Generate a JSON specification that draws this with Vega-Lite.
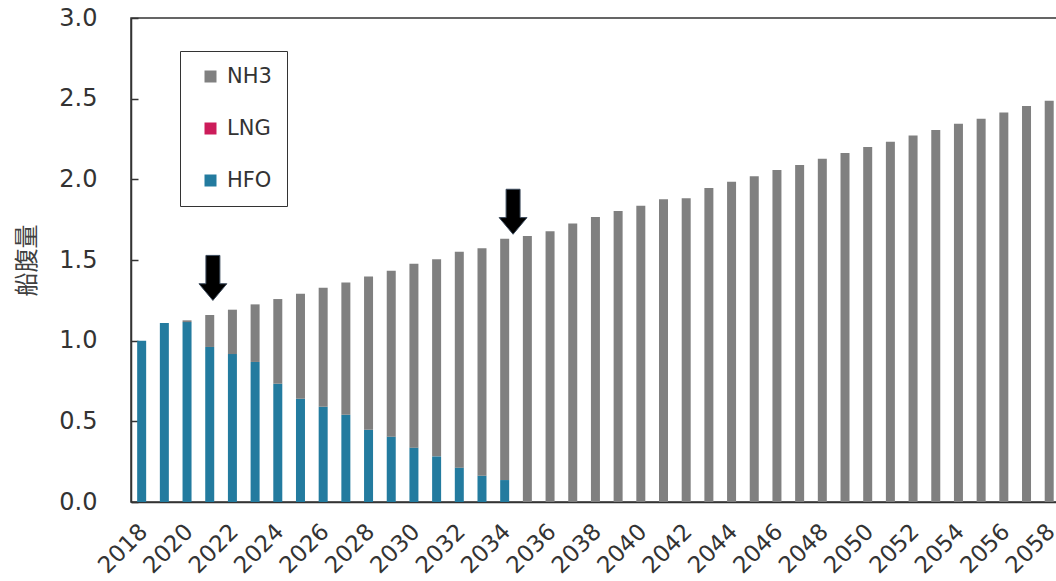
{
  "$schema": "https://vega.github.io/schema/vega-lite/v6.json",
  "width": 935,
  "height": 484,
  "autosize": "none",
  "padding": {"left": 131, "top": 18, "right": -10, "bottom": 79},
  "background": "white",
  "config": {
    "view": {"stroke": "#333333", "strokeWidth": 1.5},
    "font": "DejaVu Sans"
  },
  "datasets": {
    "bars": [
      {"year": 2018, "fuel": "HFO", "value": 1.0},
      {"year": 2019, "fuel": "HFO", "value": 1.11},
      {"year": 2020, "fuel": "HFO", "value": 1.115},
      {"year": 2020, "fuel": "NH3", "value": 0.011},
      {"year": 2021, "fuel": "HFO", "value": 0.961},
      {"year": 2021, "fuel": "NH3", "value": 0.198},
      {"year": 2022, "fuel": "HFO", "value": 0.917},
      {"year": 2022, "fuel": "NH3", "value": 0.275},
      {"year": 2023, "fuel": "HFO", "value": 0.868},
      {"year": 2023, "fuel": "NH3", "value": 0.357},
      {"year": 2024, "fuel": "HFO", "value": 0.733},
      {"year": 2024, "fuel": "NH3", "value": 0.525},
      {"year": 2025, "fuel": "HFO", "value": 0.64},
      {"year": 2025, "fuel": "NH3", "value": 0.651},
      {"year": 2026, "fuel": "HFO", "value": 0.591},
      {"year": 2026, "fuel": "NH3", "value": 0.737},
      {"year": 2027, "fuel": "HFO", "value": 0.541},
      {"year": 2027, "fuel": "NH3", "value": 0.82},
      {"year": 2028, "fuel": "HFO", "value": 0.448},
      {"year": 2028, "fuel": "NH3", "value": 0.949},
      {"year": 2029, "fuel": "HFO", "value": 0.405},
      {"year": 2029, "fuel": "NH3", "value": 1.029},
      {"year": 2030, "fuel": "HFO", "value": 0.337},
      {"year": 2030, "fuel": "NH3", "value": 1.14},
      {"year": 2031, "fuel": "HFO", "value": 0.283},
      {"year": 2031, "fuel": "NH3", "value": 1.222},
      {"year": 2032, "fuel": "HFO", "value": 0.213},
      {"year": 2032, "fuel": "NH3", "value": 1.338},
      {"year": 2033, "fuel": "HFO", "value": 0.163},
      {"year": 2033, "fuel": "NH3", "value": 1.41},
      {"year": 2034, "fuel": "HFO", "value": 0.136},
      {"year": 2034, "fuel": "NH3", "value": 1.496},
      {"year": 2035, "fuel": "NH3", "value": 1.649},
      {"year": 2036, "fuel": "NH3", "value": 1.678},
      {"year": 2037, "fuel": "NH3", "value": 1.727},
      {"year": 2038, "fuel": "NH3", "value": 1.767},
      {"year": 2039, "fuel": "NH3", "value": 1.804},
      {"year": 2040, "fuel": "NH3", "value": 1.837},
      {"year": 2041, "fuel": "NH3", "value": 1.876},
      {"year": 2042, "fuel": "NH3", "value": 1.882},
      {"year": 2043, "fuel": "NH3", "value": 1.946},
      {"year": 2044, "fuel": "NH3", "value": 1.985},
      {"year": 2045, "fuel": "NH3", "value": 2.019},
      {"year": 2046, "fuel": "NH3", "value": 2.058},
      {"year": 2047, "fuel": "NH3", "value": 2.089},
      {"year": 2048, "fuel": "NH3", "value": 2.128},
      {"year": 2049, "fuel": "NH3", "value": 2.163},
      {"year": 2050, "fuel": "NH3", "value": 2.2},
      {"year": 2051, "fuel": "NH3", "value": 2.233},
      {"year": 2052, "fuel": "NH3", "value": 2.271},
      {"year": 2053, "fuel": "NH3", "value": 2.306},
      {"year": 2054, "fuel": "NH3", "value": 2.345},
      {"year": 2055, "fuel": "NH3", "value": 2.376},
      {"year": 2056, "fuel": "NH3", "value": 2.415},
      {"year": 2057, "fuel": "NH3", "value": 2.455},
      {"year": 2058, "fuel": "NH3", "value": 2.487}
    ],
    "arrows": [
      {"year": 2021.14, "value": 1.389},
      {"year": 2034.37, "value": 1.799}
    ]
  },
  "layer": [
    {
      "data": {"name": "bars"},
      "mark": {"type": "bar", "width": 9, "orient": "vertical"},
      "encoding": {
        "x": {
          "field": "year",
          "type": "quantitative",
          "scale": {"domain": [2017.53, 2058.74], "nice": false, "zero": false, "padding": 0},
          "axis": {
            "title": null,
            "values": [2018, 2020, 2022, 2024, 2026, 2028, 2030, 2032, 2034, 2036, 2038, 2040, 2042, 2044, 2046, 2048, 2050, 2052, 2054, 2056, 2058],
            "format": "d",
            "labelAngle": -45,
            "labelFontSize": 23,
            "labelColor": "#333333",
            "labelFont": "DejaVu Sans",
            "ticks": false,
            "grid": false,
            "labelPadding": 18,
            "labelOffset": -6,
            "domainColor": "#333333",
            "domainWidth": 1.5,
            "labelOverlap": false,
            "labelFlush": false
          }
        },
        "y": {
          "field": "value",
          "type": "quantitative",
          "stack": "zero",
          "scale": {"domain": [0, 3], "nice": false},
          "axis": {
            "title": "船腹量",
            "titleFont": "Noto Sans CJK JP",
            "titleFontSize": 24,
            "titleFontWeight": "normal",
            "titleColor": "#404040",
            "titlePadding": 19,
            "values": [0, 0.5, 1, 1.5, 2, 2.5, 3],
            "format": ".1f",
            "labelFontSize": 24,
            "labelColor": "#333333",
            "labelFont": "DejaVu Sans",
            "tickSize": -7,
            "tickColor": "#333333",
            "tickWidth": 1.5,
            "labelPadding": 41,
            "grid": false,
            "domainColor": "#333333",
            "domainWidth": 1.5
          }
        },
        "color": {
          "field": "fuel",
          "type": "nominal",
          "scale": {"domain": ["NH3", "LNG", "HFO"], "range": ["#808080", "#CC1C5A", "#237B9F"]},
          "legend": {
            "title": null,
            "orient": "none",
            "legendX": 49,
            "legendY": 33,
            "strokeColor": "#333333",
            "padding": 15,
            "symbolType": "square",
            "symbolSize": 144,
            "symbolStrokeWidth": 0,
            "symbolOffset": 5,
            "labelFontSize": 21,
            "labelFont": "DejaVu Sans",
            "labelColor": "#333333",
            "labelOffset": 6,
            "rowPadding": 30
          }
        },
        "order": {"field": "fuel", "sort": "ascending"}
      }
    },
    {
      "data": {"name": "arrows"},
      "mark": {
        "type": "point",
        "shape": "M-0.31,-1L0.31,-1L0.31,0.26L0.62,0.26L0,1L-0.62,0.26L-0.31,0.26Z",
        "size": 2025,
        "filled": true,
        "fill": "#000000",
        "stroke": "#3b4a5c",
        "strokeWidth": 1,
        "opacity": 1
      },
      "encoding": {
        "x": {"field": "year", "type": "quantitative"},
        "y": {"field": "value", "type": "quantitative"}
      }
    }
  ]
}
